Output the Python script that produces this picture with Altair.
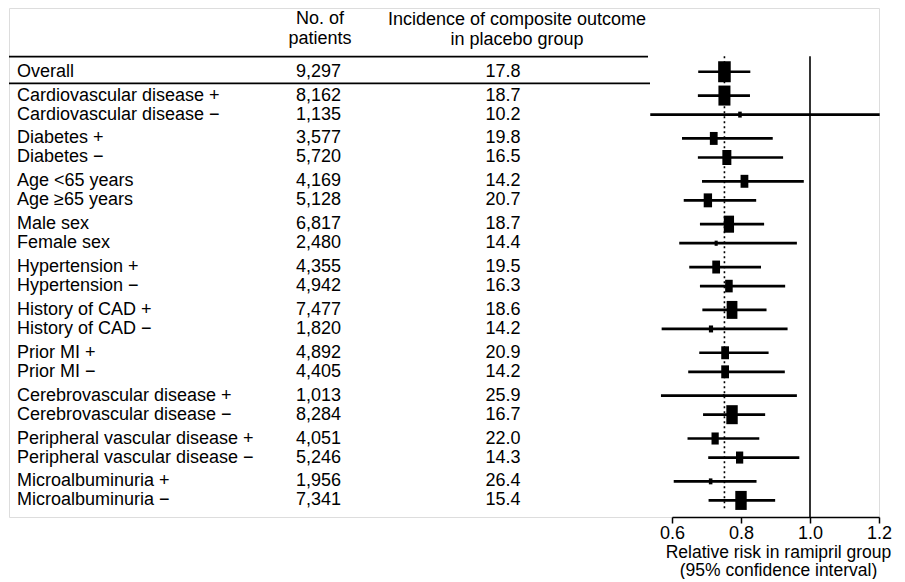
import altair as alt
import pandas as pd

# ---------------- data ----------------
labels = [
    "Overall",
    "Cardiovascular disease +", "Cardiovascular disease \u2212",
    "Diabetes +", "Diabetes \u2212",
    "Age <65 years", "Age \u226565 years",
    "Male sex", "Female sex",
    "Hypertension +", "Hypertension \u2212",
    "History of CAD +", "History of CAD \u2212",
    "Prior MI +", "Prior MI \u2212",
    "Cerebrovascular disease +", "Cerebrovascular disease \u2212",
    "Peripheral vascular disease +", "Peripheral vascular disease \u2212",
    "Microalbuminuria +", "Microalbuminuria \u2212",
]
patients = [9297, 8162, 1135, 3577, 5720, 4169, 5128, 6817, 2480, 4355, 4942,
            7477, 1820, 4892, 4405, 1013, 8284, 4051, 5246, 1956, 7341]
incidence = [17.8, 18.7, 10.2, 19.8, 16.5, 14.2, 20.7, 18.7, 14.4, 19.5, 16.3,
             18.6, 14.2, 20.9, 14.2, 25.9, 16.7, 22.0, 14.3, 26.4, 15.4]
rr = [0.752, 0.752, 0.797, 0.721, 0.759, 0.810, 0.704, 0.765, 0.728, 0.728, 0.765,
      0.774, 0.713, 0.754, 0.754, 0.750, 0.774, 0.725, 0.796, 0.712, 0.800]
ci_low = [0.676, 0.675, 0.537, 0.629, 0.675, 0.687, 0.634, 0.681, 0.621, 0.650, 0.681,
          0.688, 0.570, 0.679, 0.647, 0.568, 0.690, 0.645, 0.705, 0.605, 0.706]
ci_high = [0.827, 0.826, 1.202, 0.892, 0.922, 0.982, 0.844, 0.867, 0.962, 0.858, 0.928,
           0.874, 0.935, 0.880, 0.927, 0.962, 0.870, 0.853, 0.969, 0.845, 0.899]
weight = [100, 91, 8, 38, 51, 38, 44, 66, 6, 38, 36,
          73, 11, 38, 38, 2, 82, 33, 33, 8, 82]

header_patients = ["No. of", "patients"]
header_incidence = ["Incidence of composite outcome", "in placebo group"]
axis_title = ["Relative risk in ramipril group", "(95% confidence interval)"]
tick_values = [0.6, 0.8, 1.0, 1.2]
null_rr = 1.0

# row layout: overall first, then subgroup pairs separated by a small gap
pos = [0.0]
for k in range((len(labels) - 1) // 2):
    pos += [1.25 + 2.25 * k, 2.25 + 2.25 * k]

df = pd.DataFrame(dict(label=labels, n=patients, inc=incidence, rr=rr,
                       lo=ci_low, hi=ci_high, w=weight, pos=pos))

FONT = "Liberation Sans"
FS = 18
Y_TOP, Y_AXIS = -3.346, 23.37

yscale = alt.Scale(domain=[Y_TOP, Y_AXIS], reverse=True, nice=False, zero=False)
xscale = alt.Scale(domain=[0.6, 1.2], range=[663, 870], nice=False, zero=False)
xaxis = alt.Axis(values=tick_values, format=".1f", title=axis_title, grid=False,
                 tickSize=6, tickWidth=1.5, domainWidth=1.5, domainColor="black",
                 tickColor="black", labelColor="black", titleColor="black",
                 labelFont=FONT, titleFont=FONT, labelFontSize=FS, titleFontSize=17.5,
                 titleFontWeight="normal", labelPadding=1, titlePadding=1,
                 titleLineHeight=18.5, titleX=769, labelFlush=False)

base = alt.Chart(df)
Y = alt.Y("pos:Q", scale=yscale, axis=None)

lab = base.mark_text(align="left", baseline="middle", font=FONT, fontSize=FS,
                     color="black").encode(x=alt.value(8), y=Y, text="label:N")
num = base.mark_text(align="right", baseline="middle", font=FONT, fontSize=FS,
                     color="black").encode(x=alt.value(332), y=Y,
                                           text=alt.Text("n:Q", format=","))
inc = base.mark_text(align="center", baseline="middle", font=FONT, fontSize=FS,
                     color="black").encode(x=alt.value(494), y=Y,
                                           text=alt.Text("inc:Q", format=".1f"))

ci = base.mark_rule(color="black", strokeWidth=2.7).encode(
    x=alt.X("lo:Q", scale=xscale, axis=xaxis), x2="hi:Q", y=Y)

box = base.mark_point(shape="M-0.6,-1L0.6,-1L0.6,1L-0.6,1Z", filled=True,
                      opacity=1, color="black", strokeWidth=0).encode(
    x=alt.X("rr:Q", scale=xscale, axis=xaxis), y=Y,
    size=alt.Size("w:Q", scale=alt.Scale(domain=[0, 100], range=[0, 441]), legend=None))

ref_df = pd.DataFrame({"x": [null_rr], "y0": [-0.82], "y1": [Y_AXIS]})
ref = alt.Chart(ref_df).mark_rule(color="black", strokeWidth=1.6).encode(
    x=alt.X("x:Q", scale=xscale, axis=xaxis),
    y=alt.Y("y0:Q", scale=yscale, axis=None), y2="y1:Q")

dot_df = pd.DataFrame({"x": [rr[0]], "y0": [-0.82], "y1": [23.0]})
dot = alt.Chart(dot_df).mark_rule(color="black", strokeWidth=1.6,
                                  strokeDash=[2, 3]).encode(
    x=alt.X("x:Q", scale=xscale, axis=xaxis),
    y=alt.Y("y0:Q", scale=yscale, axis=None), y2="y1:Q")

one = pd.DataFrame({"a": [0]})
hdr1 = alt.Chart(one).mark_text(align="center", baseline="alphabetic", font=FONT,
                                fontSize=FS, color="black", lineHeight=20).encode(
    x=alt.value(311), y=alt.value(16), text=alt.value(header_patients))
hdr2 = alt.Chart(one).mark_text(align="center", baseline="alphabetic", font=FONT,
                                fontSize=FS, color="black", lineHeight=20).encode(
    x=alt.value(508), y=alt.value(17), text=alt.value(header_incidence))

rule1 = alt.Chart(one).mark_rule(color="black", strokeWidth=1.8).encode(
    x=alt.value(0), x2=alt.value(639), y=alt.value(48.7))
rule2 = alt.Chart(one).mark_rule(color="black", strokeWidth=1.8).encode(
    x=alt.value(0), x2=alt.value(641), y=alt.value(75.3))

chart = alt.layer(rule1, rule2, hdr1, hdr2, lab, num, inc, ref, dot, ci, box).properties(
    width=870, height=509, padding=0
).configure_view(stroke=None).configure(font=FONT)

chart.save("out.html", embed_options={"renderer": "svg", "actions": False})
